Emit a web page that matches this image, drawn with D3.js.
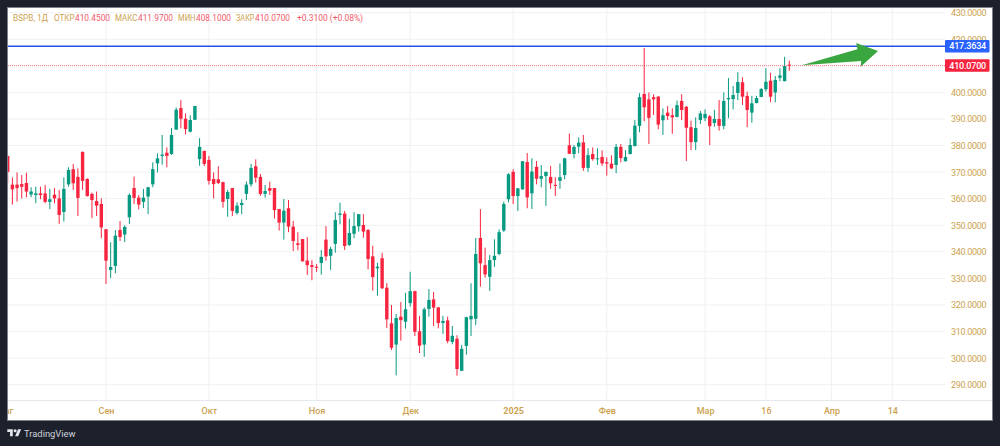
<!DOCTYPE html>
<html>
<head>
<meta charset="utf-8">
<script src="https://cdn.jsdelivr.net/npm/d3@7/dist/d3.min.js"></script>
<style>
  html, body { margin: 0; padding: 0; background: #1c212c; }
  svg { display: block; }
  text { font-family: Roboto, "Noto Sans", sans-serif; }
</style>
</head>
<body>
<svg id="chart" width="1000" height="446"></svg>
<script>
// BSPB daily candles, oldest first
const open = [
376.1,365.3,365.3,365.5,365.9,361.6,361.4,362.0,362.0,358.8,
361.5,360.1,355.0,365.4,371.1,368.2,377.6,367.4,361.8,359.1,
358.0,348.5,333.2,334.7,348.2,346.5,353.0,364.0,360.4,358.8,
360.8,365.4,373.3,376.1,377.3,376.8,386.0,394.1,390.1,385.2,
389.7,374.9,378.0,374.6,367.4,367.3,366.2,359.9,364.0,354.6,
357.6,361.8,365.4,372.2,368.2,361.8,364.0,364.0,356.1,351.0,
356.4,349.5,343.2,344.8,336.7,335.0,334.4,335.8,344.6,338.5,
343.0,353.9,354.4,342.6,346.8,349.6,350.1,348.2,338.3,333.8,
337.6,326.5,313.1,305.1,315.6,313.7,320.7,325.2,310.1,305.1,
318.5,322.1,319.1,313.2,314.2,306.1,307.3,295.2,304.6,314.6,
314.8,345.2,335.0,330.6,336.9,339.2,348.0,359.8,370.1,361.0,
363.5,373.8,362.0,372.0,367.5,368.5,368.2,365.2,366.7,368.9,
380.1,376.8,379.6,381.2,371.6,376.8,374.9,375.7,373.7,373.2,
372.7,379.5,374.1,376.8,379.8,387.4,399.4,397.4,398.2,398.4,
389.5,392.4,391.4,390.8,396.8,394.6,386.9,381.3,389.6,390.3,
391.0,388.5,390.0,387.4,397.4,397.5,399.8,403.8,398.7,392.4,
396.0,398.3,401.2,404.4,400.0,405.5,404.2,410.45];

const close = [
370.1,363.5,364.0,364.5,362.7,362.7,362.0,361.4,358.8,359.8,
360.1,353.9,363.7,370.8,365.8,360.3,366.7,361.0,359.5,357.4,
349.2,336.7,334.3,346.1,345.6,349.4,361.4,360.3,357.8,360.4,
364.3,371.1,375.2,376.6,376.1,384.0,393.5,390.1,386.2,389.6,
394.9,379.5,373.1,366.7,365.5,365.9,358.8,362.5,355.4,357.4,
358.4,365.3,371.6,367.9,361.8,362.9,363.0,355.7,351.0,355.5,
349.5,344.1,342.6,336.4,335.0,334.3,334.0,338.1,338.3,341.1,
352.0,354.4,342.2,347.1,349.7,354.2,347.6,337.3,330.5,334.4,
326.3,314.6,303.9,315.1,314.3,318.4,325.2,309.9,304.7,318.4,
321.9,319.0,313.2,314.0,306.4,308.4,295.9,303.5,315.4,315.9,
339.2,335.7,331.5,336.9,338.5,347.4,358.0,369.2,361.0,363.9,
374.1,360.5,370.2,367.5,368.5,370.1,365.8,364.9,368.1,375.2,
376.9,379.5,381.1,371.6,376.4,374.9,375.2,373.3,373.2,371.4,
379.5,375.3,375.7,380.2,387.5,398.2,394.4,390.4,397.4,387.9,
391.4,391.1,390.6,395.2,393.4,386.7,381.3,386.6,392.1,391.9,
387.3,390.0,387.4,396.8,397.9,399.0,403.9,398.4,393.4,395.9,
397.9,401.3,404.0,398.4,404.7,406.4,409.9,410.07];

const high = [
376.1,368.0,369.9,368.9,369.8,364.3,364.5,364.5,365.2,363.7,
364.0,363.3,368.0,371.8,373.1,371.4,377.8,367.7,362.3,362.7,
360.1,348.6,343.6,348.2,351.6,350.0,362.0,368.3,361.4,363.7,
364.5,373.7,377.1,384.0,379.3,386.6,394.3,397.1,392.1,391.4,
394.9,382.8,378.0,376.1,369.9,372.2,366.4,363.3,364.0,358.6,
359.8,366.5,373.1,374.8,369.3,365.2,366.4,364.0,356.1,359.9,
359.5,351.6,347.4,344.8,345.5,336.9,335.4,340.7,349.7,341.9,
354.9,358.5,355.4,352.5,354.9,354.2,354.2,348.6,342.3,335.9,
339.6,328.2,320.0,316.6,321.1,324.6,332.5,325.4,315.9,319.1,
326.0,324.9,319.2,315.9,315.6,312.1,308.6,304.9,315.6,328.2,
345.2,356.1,341.6,338.8,344.7,348.5,358.9,369.6,371.1,364.0,
374.2,377.2,375.2,374.2,372.7,370.2,372.3,368.1,373.3,375.4,
384.5,380.2,383.1,384.0,379.0,379.3,379.0,378.2,375.6,376.3,
380.6,380.6,378.3,382.7,389.6,399.7,416.7,400.0,399.3,398.7,
394.0,394.9,394.0,396.9,399.3,394.9,389.4,390.6,393.0,393.6,
391.5,393.4,397.1,400.0,405.4,402.4,407.6,405.7,400.3,398.7,
398.7,401.6,409.1,407.4,406.2,409.1,413.4,411.97];

const low = [
365.8,357.8,358.9,360.1,360.5,360.6,358.3,359.8,358.3,356.1,
358.3,350.5,351.4,364.5,363.3,353.5,363.3,360.8,352.7,353.5,
345.1,327.9,330.2,331.9,344.1,343.7,350.5,358.0,356.0,356.5,
354.2,364.3,369.9,372.8,371.8,376.5,385.9,386.5,384.2,385.0,
389.6,372.4,372.3,365.3,360.1,365.5,356.6,353.2,353.5,354.0,
354.2,359.5,364.5,366.0,361.1,360.4,361.4,352.5,348.0,344.6,
347.4,340.3,340.6,336.4,331.3,329.3,332.5,331.4,336.7,333.2,
339.7,350.4,340.7,342.2,345.1,347.6,345.3,333.4,325.4,323.5,
326.0,311.3,303.1,293.5,306.6,311.1,319.4,308.3,301.9,300.5,
315.6,312.1,311.2,309.1,305.6,305.2,293.4,295.2,301.3,308.3,
312.4,326.9,330.3,325.3,334.3,338.7,347.5,358.6,358.0,355.4,
363.4,356.4,356.1,365.4,364.3,357.3,363.7,361.0,363.7,367.3,
376.8,375.2,377.1,370.5,370.1,374.3,372.7,372.4,368.7,371.2,
369.6,373.7,374.0,376.7,379.7,385.0,389.2,380.6,391.5,386.1,
384.0,389.6,384.4,390.6,389.6,374.2,378.3,378.3,388.1,389.2,
380.2,387.1,385.6,386.1,390.3,393.6,397.1,395.3,386.9,388.6,
395.9,398.2,400.3,396.3,396.3,404.2,404.2,408.1];

const priceTicks = [430,420,410,400,390,380,370,360,350,340,330,320,310,300,290];
const timeTickBars = [-0.5,21,43,66,86,108,128,149,162,176,189];
const timeTickLabels = ["Авг","Сен","Окт","Ноя","Дек","2025","Фев","Мар","16","Апр","14"];
const lastPrice = 410.07;
const levelPrice = 417.3634;
const arrowFrom = { bar: 169.66, price: 410.2 };
const arrowTo = { bar: 185.96, price: 415.6 };
const legendParts = [
  { text: "BSPB, 1Д", kind: "label", at: 13, span: 35 },
  { text: "ОТКР", kind: "label", at: 54, span: 20.5 },
  { text: "410.4500", kind: "value", at: 75, span: 35 },
  { text: "МАКС", kind: "label", at: 115, span: 22.5 },
  { text: "411.9700", kind: "value", at: 138, span: 35 },
  { text: "МИН", kind: "label", at: 178, span: 17.5 },
  { text: "408.1000", kind: "value", at: 196, span: 35 },
  { text: "ЗАКР", kind: "label", at: 236, span: 18.5 },
  { text: "410.0700", kind: "value", at: 255, span: 35 },
  { text: "+0.3100 (+0.08%)", kind: "value", at: 297, span: 66 }
];

const UP = "#089981", DOWN = "#f7243f", TAN = "#cca24f", GRID = "#f0f1f4";
const frame = { left: 8, top: 8, right: 992, bottom: 420 };
const plot = { right: 945, bottom: 400 };

const svg = d3.select("#chart");
const x = d3.scaleLinear().domain([0, 167]).range([7.7, 789.3]);
const y = d3.scaleLinear().domain([430, 290]).range([12.7, 384.7]);

// panel
svg.append("rect")
  .attr("x", frame.left - 0.5).attr("y", frame.top - 0.5)
  .attr("width", frame.right - frame.left + 1).attr("height", frame.bottom - frame.top + 1)
  .attr("fill", "#fff").attr("stroke", "#7d8088").attr("stroke-width", 1);

svg.append("clipPath").attr("id", "plot-clip").append("rect")
  .attr("x", frame.left).attr("y", frame.top)
  .attr("width", plot.right - frame.left).attr("height", plot.bottom - frame.top);
svg.append("clipPath").attr("id", "time-clip").append("rect")
  .attr("x", frame.left).attr("y", 0)
  .attr("width", frame.right - frame.left).attr("height", 20);

// grid
const grid = svg.append("g").attr("clip-path", "url(#plot-clip)");
grid.selectAll("line.h").data(priceTicks).join("line").attr("class", "h")
  .attr("x1", frame.left).attr("x2", plot.right)
  .attr("y1", d => y(d)).attr("y2", d => y(d))
  .attr("stroke", GRID);
grid.selectAll("line.v").data(timeTickBars.slice(1)).join("line").attr("class", "v")
  .attr("x1", d => x(d)).attr("x2", d => x(d))
  .attr("y1", frame.top).attr("y2", plot.bottom)
  .attr("stroke", GRID);

// candles
const bars = d3.range(open.length).map(i => ({
  i, o: open[i], h: high[i], l: low[i], c: close[i], up: close[i] >= open[i]
}));
const candles = svg.append("g").attr("clip-path", "url(#plot-clip)");
const bodyWidth = 3.4;
candles.selectAll("line.wick").data(bars).join("line").attr("class", "wick")
  .attr("x1", d => x(d.i)).attr("x2", d => x(d.i))
  .attr("y1", d => y(d.h)).attr("y2", d => y(d.l))
  .attr("stroke", d => d.up ? UP : DOWN).attr("stroke-width", 1);
candles.selectAll("rect.body").data(bars).join("rect").attr("class", "body")
  .attr("x", d => x(d.i) - bodyWidth / 2).attr("width", bodyWidth)
  .attr("y", d => y(Math.max(d.o, d.c)))
  .attr("height", d => Math.max(1, y(Math.min(d.o, d.c)) - y(Math.max(d.o, d.c))))
  .attr("fill", d => d.up ? UP : DOWN);

// horizontal level and last price line
svg.append("line")
  .attr("x1", frame.left).attr("x2", plot.right)
  .attr("y1", y(levelPrice)).attr("y2", y(levelPrice))
  .attr("stroke", "#2453e6").attr("stroke-width", 1.5);
svg.append("line")
  .attr("x1", frame.left).attr("x2", plot.right)
  .attr("y1", y(lastPrice)).attr("y2", y(lastPrice))
  .attr("stroke", "#f23645").attr("stroke-opacity", 0.65).attr("stroke-dasharray", "1 1");

// trend arrow anchored on bar and price
(function drawArrow() {
  const x0 = x(arrowFrom.bar), y0 = y(arrowFrom.price);
  const x1 = x(arrowTo.bar), y1 = y(arrowTo.price);
  const len = Math.hypot(x1 - x0, y1 - y0);
  const ux = (x1 - x0) / len, uy = (y1 - y0) / len;
  const at = (along, across) => [x0 + ux * along - uy * across, y0 + uy * along + ux * across];
  const neck = len - 20;
  const pts = [at(0, 0), at(neck, -5.4), at(neck, -11.9), at(len, 0), at(neck, 12.4), at(neck + 1.6, 6.7)];
  svg.append("polygon")
    .attr("points", pts.map(p => p.join(",")).join(" "))
    .attr("fill", "#3aa63f");
})();

// time axis
svg.append("line")
  .attr("x1", frame.left).attr("x2", frame.right)
  .attr("y1", plot.bottom + 0.5).attr("y2", plot.bottom + 0.5)
  .attr("stroke", "#e6e8ee");
const timeAxis = d3.axisBottom(x)
  .tickValues(timeTickBars)
  .tickSize(0).tickPadding(6)
  .tickFormat((d, i) => timeTickLabels[i]);
const timeG = svg.append("g")
  .attr("transform", `translate(0,${plot.bottom})`)
  .attr("clip-path", "url(#time-clip)")
  .call(timeAxis);
timeG.select(".domain").remove();
timeG.selectAll("text")
  .attr("fill", TAN).attr("font-size", 9).attr("dy", "0.85em")
  .attr("font-weight", d => d === 108 ? 700 : 500)
  .style("font-family", "Roboto, sans-serif");

// price axis; the 410 label sits under the last price tag, so it is left out
const priceAxis = d3.axisRight(y)
  .tickValues(priceTicks.filter(d => d !== 410))
  .tickSize(0).tickPadding(6)
  .tickFormat(d3.format(".4f"));
const priceG = svg.append("g")
  .attr("transform", `translate(${plot.right},0)`)
  .call(priceAxis);
priceG.select(".domain").remove();
priceG.selectAll("text")
  .attr("fill", TAN).attr("font-size", 9).attr("letter-spacing", -0.3)
  .style("font-family", "Roboto, sans-serif");

// price tags
function priceTag(price, label, fill) {
  const g = svg.append("g").attr("transform", `translate(${plot.right},${y(price)})`);
  g.append("rect").attr("x", 0).attr("y", -6.3).attr("width", 44.5).attr("height", 12.4)
    .attr("rx", 1).attr("fill", fill);
  g.append("text").attr("x", 41).attr("y", 3.2).attr("text-anchor", "end")
    .attr("fill", "#fff").attr("font-size", 9).attr("font-weight", 500)
    .attr("letter-spacing", -0.2).text(label);
}
priceTag(levelPrice, levelPrice.toFixed(4), "#2962ff");
priceTag(lastPrice, lastPrice.toFixed(4), "#f7243f");

// legend row
svg.append("g").selectAll("text").data(legendParts).join("text")
  .attr("x", d => d.at).attr("y", 20.5)
  .attr("font-size", 9)
  .attr("textLength", d => d.span)
  .attr("lengthAdjust", "spacingAndGlyphs")
  .attr("fill", d => d.kind === "label" ? TAN : "#f25a6a")
  .text(d => d.text);

// TradingView mark and wordmark
const logo = svg.append("g").attr("transform", "translate(7.3,427.6) scale(0.39)").attr("fill", "#e4e6ec");
logo.append("path").attr("d", "M14 22H7V11H0V4h14v18zM28 22h-8l7.5-18h8L28 22z");
logo.append("circle").attr("cx", 20).attr("cy", 8).attr("r", 4);
svg.append("text").attr("x", 24).attr("y", 437)
  .attr("font-size", 9.4).attr("fill", "#d1d4dc").text("TradingView");
</script>
</body>
</html>
